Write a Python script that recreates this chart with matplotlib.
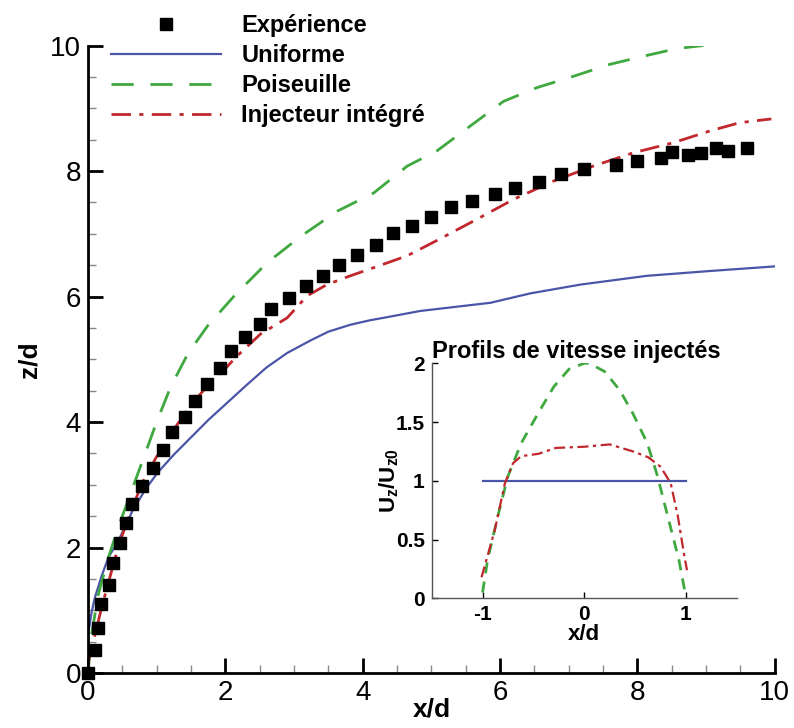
import numpy as np
import matplotlib
matplotlib.use('Agg')
import matplotlib.pyplot as plt
from matplotlib.ticker import MultipleLocator

plt.rcParams['font.family'] = ['Liberation Sans', 'DejaVu Sans']
plt.rcParams['mathtext.fontset'] = 'custom'
plt.rcParams['mathtext.rm'] = 'Liberation Sans'
plt.rcParams['mathtext.bf'] = 'Liberation Sans:bold'

# Experience (squares)
exp_x = [0, 0.1, 0.14, 0.19, 0.31, 0.36, 0.46, 0.56, 0.64, 0.79, 0.94, 1.09, 1.23, 1.41, 1.56,
         1.74, 1.92, 2.08, 2.28, 2.50, 2.67, 2.93, 3.18, 3.42, 3.66, 3.91, 4.19, 4.44, 4.72,
         5.0, 5.28, 5.59, 5.92, 6.22, 6.56, 6.88, 7.22, 7.69, 8.0, 8.35, 8.51, 8.74, 8.92,
         9.15, 9.32, 9.59]
exp_z = [0, 0.36, 0.72, 1.10, 1.41, 1.76, 2.07, 2.39, 2.70, 2.98, 3.26, 3.56, 3.84, 4.08, 4.34,
         4.60, 4.86, 5.13, 5.35, 5.56, 5.80, 5.98, 6.16, 6.33, 6.50, 6.66, 6.82, 7.01, 7.13,
         7.27, 7.42, 7.52, 7.63, 7.73, 7.82, 7.95, 8.03, 8.09, 8.16, 8.21, 8.30, 8.25, 8.29,
         8.37, 8.32, 8.37]

# Uniforme
uni_x = [0, 0.05, 0.1, 0.2, 0.3, 0.44, 0.65, 0.85, 1.02, 1.25, 1.45, 1.75, 2.08, 2.3, 2.6,
         2.9, 3.24, 3.5, 3.82, 4.1, 4.4, 4.84, 5.86, 6.44, 7.17, 8.14, 9.1, 10.0]
uni_z = [0.6, 0.95, 1.2, 1.55, 1.85, 2.1, 2.59, 2.95, 3.2, 3.48, 3.7, 4.03, 4.36, 4.58, 4.87,
         5.1, 5.3, 5.44, 5.55, 5.62, 5.68, 5.77, 5.9, 6.05, 6.19, 6.33, 6.41, 6.48]

# Poiseuille
poi_x = [0, 0.05, 0.15, 0.3, 0.45, 0.6, 0.8, 1.0, 1.2, 1.45, 1.74, 2.13, 2.61, 3.1, 3.63,
         4.16, 4.65, 5.08, 5.57, 6.05, 6.54, 7.07, 7.6, 8.09, 8.57, 8.96]
poi_z = [0, 0.6, 1.25, 1.85, 2.35, 2.8, 3.4, 4.0, 4.55, 5.08, 5.53, 6.01, 6.54, 6.96, 7.36,
         7.65, 8.08, 8.32, 8.72, 9.11, 9.33, 9.51, 9.70, 9.83, 9.95, 10.0]

# Injecteur integre
inj_x = [0, 0.1, 0.2, 0.3, 0.4, 0.5, 0.65, 0.8, 1.0, 1.2, 1.4, 1.6, 1.8, 2.0, 2.15, 2.51,
         2.9, 3.19, 3.48, 3.82, 4.16, 4.65, 5.11, 5.66, 6.2, 6.78, 7.36, 7.94, 8.52, 9.06,
         9.49, 9.95]
inj_z = [0.15, 0.6, 1.05, 1.45, 1.85, 2.2, 2.65, 3.05, 3.45, 3.8, 4.12, 4.4, 4.65, 4.85, 5.03,
         5.4, 5.66, 6.01, 6.19, 6.33, 6.46, 6.65, 6.91, 7.23, 7.55, 7.84, 8.08, 8.29, 8.45,
         8.64, 8.77, 8.83]

# Inset profiles
prof_uni_x = [-1, 1]
prof_uni_u = [1, 1]
prof_poi_x = [-1.0, -0.95, -0.85, -0.75, -0.62, -0.45, -0.3, -0.15, 0.0, 0.05, 0.2, 0.35,
              0.48, 0.62, 0.72, 0.82, 0.93, 1.0]
prof_poi_u = [0.05, 0.33, 0.70, 1.04, 1.32, 1.58, 1.80, 1.95, 2.0, 2.0, 1.93, 1.77,
              1.57, 1.32, 1.04, 0.70, 0.33, 0.01]
prof_inj_x = [-1.01, -0.88, -0.78, -0.7, -0.62, -0.45, -0.28, 0.0, 0.25, 0.48, 0.63, 0.75,
              0.85, 0.92, 0.98, 1.01]
prof_inj_u = [0.18, 0.58, 0.98, 1.15, 1.21, 1.23, 1.28, 1.29, 1.31, 1.25, 1.2, 1.12,
              0.98, 0.70, 0.38, 0.24]

blue = '#4a55a8'
green = '#3fa83f'
red = '#c0282d'

fig = plt.figure(figsize=(7.94, 7.28), dpi=100)
ax = fig.add_axes([0.1108, 0.0755, 0.865, 0.862])

ax.plot(exp_x, exp_z, 's', color='black', markersize=9, label='Expérience', zorder=5,
        clip_on=False)
ax.plot(uni_x, uni_z, '-', color=blue, lw=1.6, label='Uniforme')
ax.plot(poi_x, poi_z, color=green, lw=2, linestyle=(0, (8, 6)), label='Poiseuille')
ax.plot(inj_x, inj_z, color=red, lw=2, linestyle=(0, (7, 3, 1.5, 3)), label='Injecteur intégré')

ax.set_xlim(0, 10)
ax.set_ylim(0, 10)
ax.spines['top'].set_visible(False)
ax.spines['right'].set_visible(False)
for s in ['left', 'bottom']:
    ax.spines[s].set_linewidth(2)
ax.xaxis.set_major_locator(MultipleLocator(2))
ax.yaxis.set_major_locator(MultipleLocator(2))
ax.xaxis.set_minor_locator(MultipleLocator(0.5))
ax.yaxis.set_minor_locator(MultipleLocator(0.5))
ax.tick_params(which='major', direction='in', length=11, width=2, labelsize=20, pad=5)
ax.tick_params(which='minor', direction='in', length=6, width=1, color='#888888')
ax.set_xlabel('x/d', fontsize=19, fontweight='bold', labelpad=-6)
ax.set_ylabel('z/d', fontsize=19, fontweight='bold', labelpad=6)

ax.legend(loc='upper left', bbox_to_anchor=(0.125, 0.997), bbox_transform=fig.transFigure,
          frameon=False, prop={'weight': 'bold', 'size': 17}, handlelength=4.66,
          handletextpad=0.85, labelspacing=0.3, borderpad=0, numpoints=1)

# Inset
ins = fig.add_axes([0.5437, 0.178, 0.3843, 0.323])
ins.plot(prof_uni_x, prof_uni_u, '-', color=blue, lw=1.6)
ins.plot(prof_poi_x, prof_poi_u, color=green, lw=2, linestyle=(0, (4, 3)))
ins.plot(prof_inj_x, prof_inj_u, color=red, lw=1.6, linestyle=(0, (5, 2, 1.5, 2)))
ins.set_xlim(-1.5, 1.5)
ins.set_ylim(0, 2)
ins.spines['top'].set_visible(False)
ins.spines['right'].set_visible(False)
for s in ['left', 'bottom']:
    ins.spines[s].set_linewidth(1)
    ins.spines[s].set_color('#555555')
ins.set_xticks([-1, 0, 1])
ins.set_xticklabels(['-1', '0', '1'])
ins.set_yticks([0, 0.5, 1, 1.5, 2])
ins.set_yticklabels(['0', '0.5', '1', '1.5', '2'])
ins.tick_params(direction='in', length=4, width=1, labelsize=15, pad=5)
for lab in ins.get_xticklabels() + ins.get_yticklabels():
    lab.set_fontweight('bold')
ins.set_xlabel('x/d', fontsize=16, fontweight='bold', labelpad=0)
ins.set_ylabel(r'$\mathbf{U_z/U_{z0}}$', fontsize=16, labelpad=-4)
ins.set_title('Profils de vitesse injectés', fontsize=17, fontweight='bold', loc='left', pad=3)
ins.patch.set_alpha(0)

fig.savefig('out.png', dpi=100)
